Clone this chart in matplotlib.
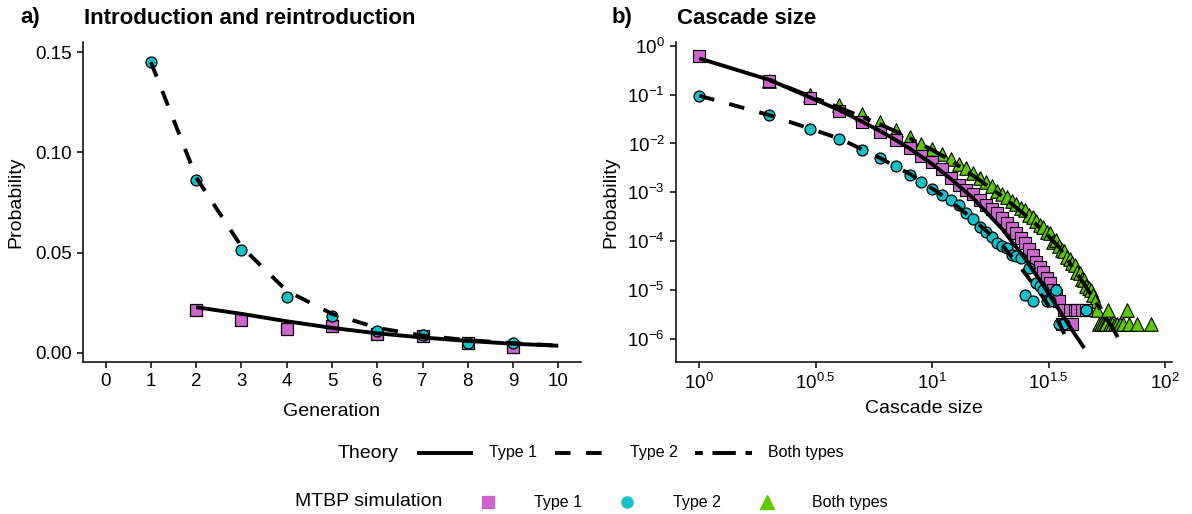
import matplotlib.pyplot as plt
from matplotlib.lines import Line2D

plt.rcParams['font.family'] = ['Liberation Sans', 'DejaVu Sans']
plt.rcParams['mathtext.default'] = 'regular'

# ---- panel a: introduction and reintroduction ----
gen_theory1 = [2, 3, 4, 5, 6, 7, 8, 9, 10]
theory1_a = [0.0228, 0.0195, 0.0158, 0.0125, 0.0098, 0.0077, 0.0060, 0.0046, 0.0036]
gen_theory2 = [1, 2, 3, 4, 5, 6, 7, 8, 9, 10]
theory2_a = [0.145, 0.0875, 0.053, 0.031, 0.0195, 0.0125, 0.0087, 0.0064, 0.0049, 0.0037]
gen_sim1 = [2, 3, 4, 5, 6, 7, 8, 9]
sim1_a = [0.0213, 0.0163, 0.0118, 0.0132, 0.0097, 0.0085, 0.0048, 0.0030]
gen_sim2 = [1, 2, 3, 4, 5, 6, 7, 8, 9]
sim2_a = [0.1452, 0.0863, 0.0513, 0.0280, 0.0182, 0.0110, 0.0088, 0.0052, 0.0048]

# ---- panel b: cascade size ----
size_th1 = [1, 2, 3, 4, 5, 6, 7, 8, 10, 12, 15, 20, 25, 30, 35, 40, 45]
theory1_b = [0.55, 0.20, 0.087, 0.048, 0.028, 0.0178, 0.0117, 0.0079, 0.0038, 0.0019,
             0.00076, 0.000178, 4.47e-5, 1.26e-5, 4.0e-6, 1.5e-6, 6.5e-7]
size_th2 = [1, 2, 3, 4, 5, 6, 7, 8, 10, 12, 15, 20, 25, 30, 35, 38]
theory2_b = [0.095, 0.038, 0.020, 0.0126, 0.0076, 0.0050, 0.0033, 0.0024, 0.0012, 0.00066,
             0.00028, 8.3e-5, 2.24e-5, 7.1e-6, 2.2e-6, 9.5e-7]
size_thb = [2, 3, 4, 5, 6, 7, 8, 10, 12, 15, 20, 25, 30, 35, 40, 45, 50, 55, 60, 64]
theoryb_b = [0.20, 0.092, 0.054, 0.035, 0.0245, 0.0175, 0.0128, 0.0074, 0.0045, 0.0022,
             0.00083, 0.00035, 0.000166, 7.6e-5, 3.0e-5, 1.32e-5, 6.0e-6, 3.0e-6, 1.6e-6, 8.9e-7]

size_sim1 = list(range(1, 43)) + [44, 46]
sim1_b = [0.62, 0.19, 0.085, 0.047, 0.028, 0.0175, 0.0118, 0.0080, 0.0056, 0.0042,
          0.0030, 0.0020, 0.0014, 0.00112, 0.00093, 0.00070, 0.00055, 0.00046, 0.00038, 0.00030,
          0.00024, 0.00019, 0.000150, 0.000118, 9.4e-5, 7.0e-5, 5.2e-5, 3.8e-5, 3.0e-5, 2.4e-5,
          1.8e-5, 1.4e-5, 1.0e-5, 8e-6, 6e-6, 2e-6, 4e-6, 2e-6, 4e-6, 2e-6,
          4e-6, 4e-6, 4e-6, 4e-6]
size_sim2 = list(range(1, 33)) + [34, 35, 37, 46]
sim2_b = [0.095, 0.038, 0.020, 0.0125, 0.0075, 0.0050, 0.0034, 0.0023, 0.00166, 0.00115,
          0.00089, 0.00069, 0.00055, 0.00037, 0.00029, 0.00020, 0.000158, 0.000123, 9.1e-5, 8.0e-5,
          7.2e-5, 5.2e-5, 4.9e-5, 4.5e-5, 8e-6, 2.8e-5, 6e-6, 1.4e-5, 1.2e-5, 1.0e-5,
          6e-6, 6e-6, 1.0e-5, 2e-6, 2e-6, 4e-6]
size_simb = list(range(2, 60)) + [61, 62, 64, 66, 69, 70, 76, 87]
simb_b = [0.19, 0.10, 0.060, 0.040, 0.028, 0.019, 0.0135, 0.0098, 0.0076, 0.0060,
          0.0048, 0.0038, 0.0032, 0.0025, 0.0020, 0.00166, 0.00132, 0.00107, 0.00091, 0.00079,
          0.00066, 0.00058, 0.00049, 0.00044, 0.00035, 0.00032, 0.00026, 0.00022, 0.00020, 0.000158,
          0.000145, 9.5e-5, 0.000105, 7.9e-5, 6.6e-5, 6.3e-5, 4.8e-5, 4.4e-5, 3.6e-5, 3.2e-5,
          2.4e-5, 2.2e-5, 1.7e-5, 1.6e-5, 1.2e-5, 1.1e-5, 1.0e-5, 8e-6, 6e-6, 4e-6,
          2e-6, 2e-6, 2e-6, 2e-6, 2e-6, 4e-6, 2e-6, 2e-6,
          2e-6, 2e-6, 2e-6, 2e-6, 4e-6, 2e-6, 2e-6, 2e-6]

c1 = '#cc66cc'
c2 = '#10c1cc'
cb = '#5ec800'
lw = 2.8

fig = plt.figure(figsize=(11.92, 5.14), dpi=100)
W, H = 1192, 514
axa = fig.add_axes([83 / W, 1 - 362 / H, 498 / W, 320 / H])
axb = fig.add_axes([676 / W, 1 - 362 / H, 496 / W, 320 / H])

for ax in (axa, axb):
    ax.spines['top'].set_visible(False)
    ax.spines['right'].set_visible(False)
    for sp in ('left', 'bottom'):
        ax.spines[sp].set_linewidth(1.1)
    ax.tick_params(labelsize=13.5, length=4, width=1.1, colors='black', pad=4)
    ax.minorticks_off()

# panel a
axa.scatter(gen_sim1, sim1_a, marker='s', s=70, c=c1, edgecolors='black', linewidths=0.9, zorder=2)
axa.scatter(gen_sim2, sim2_a, marker='o', s=62, c=c2, edgecolors='black', linewidths=0.9, zorder=2)
axa.plot(gen_theory1, theory1_a, color='black', lw=lw, solid_capstyle='butt', zorder=3)
axa.plot(gen_theory2, theory2_a, color='black', lw=lw, ls=(0, (4, 4)), zorder=3)
axa.set_xlim(-0.5, 10.5)
axa.set_ylim(-0.0045, 0.155)
axa.set_xticks(range(0, 11))
axa.set_yticks([0, 0.05, 0.10, 0.15])
axa.set_yticklabels(['0.00', '0.05', '0.10', '0.15'])
axa.set_xlabel('Generation', fontsize=14, labelpad=9)
axa.set_ylabel('Probability', fontsize=14, labelpad=8)

# panel b
axb.set_xscale('log')
axb.set_yscale('log')
axb.scatter(size_simb, simb_b, marker='^', s=95, c=cb, edgecolors='black', linewidths=0.8, zorder=2)
axb.scatter(size_sim1, sim1_b, marker='s', s=70, c=c1, edgecolors='black', linewidths=0.8, zorder=2)
axb.scatter(size_sim2, sim2_b, marker='o', s=62, c=c2, edgecolors='black', linewidths=0.9, zorder=2)
axb.plot(size_th1, theory1_b, color='black', lw=lw, solid_capstyle='butt', zorder=3)
axb.plot(size_th2, theory2_b, color='black', lw=lw, ls=(0, (4, 4)), zorder=3)
axb.plot(size_thb, theoryb_b, color='black', lw=lw, ls=(0, (2, 2.5, 6, 2.5)), zorder=3)
axb.set_xlim(10 ** -0.1, 10 ** 2.03)
axb.set_ylim(10 ** -6.47, 10 ** 0.076)
axb.set_xticks([1, 10 ** 0.5, 10, 10 ** 1.5, 100])
axb.set_xticklabels(['$10^{0}$', '$10^{0.5}$', '$10^{1}$', '$10^{1.5}$', '$10^{2}$'])
axb.set_yticks([1e0, 1e-1, 1e-2, 1e-3, 1e-4, 1e-5, 1e-6])
axb.set_yticklabels(['$10^{0}$', '$10^{-1}$', '$10^{-2}$', '$10^{-3}$', '$10^{-4}$',
                     '$10^{-5}$', '$10^{-6}$'])
axb.minorticks_off()
axb.set_xlabel('Cascade size', fontsize=14, labelpad=5)
axb.set_ylabel('Probability', fontsize=14, labelpad=6)

# titles
fig.text(20 / W, 1 - 18 / H, 'a)', fontsize=16, fontweight='bold', va='center')
fig.text(84 / W, 1 - 18 / H, 'Introduction and reintroduction', fontsize=16, fontweight='bold', va='center')
fig.text(612 / W, 1 - 18 / H, 'b)', fontsize=16, fontweight='bold', va='center')
fig.text(677 / W, 1 - 18 / H, 'Cascade size', fontsize=16, fontweight='bold', va='center')

# legend
def fx(px):
    return px / W

def fy(py):
    return 1 - py / H

y1, y2 = 453, 502
fig.text(fx(338), fy(y1), 'Theory', fontsize=14, va='center')
fig.add_artist(Line2D([fx(417), fx(473)], [fy(y1)] * 2, color='black', lw=lw, solid_capstyle='butt'))
fig.text(fx(489), fy(y1), 'Type 1', fontsize=11.5, va='center')
fig.add_artist(Line2D([fx(555), fx(605)], [fy(y1)] * 2, color='black', lw=lw, ls=(0, (4, 4))))
fig.text(fx(630), fy(y1), 'Type 2', fontsize=11.5, va='center')
fig.add_artist(Line2D([fx(695), fx(752)], [fy(y1)] * 2, color='black', lw=lw, ls=(0, (2, 2.5, 6, 2.5))))
fig.text(fx(768), fy(y1), 'Both types', fontsize=11.5, va='center')

fig.text(fx(295), fy(y2), 'MTBP simulation', fontsize=14, va='center')
fig.add_artist(Line2D([fx(488)], [fy(y2)], marker='s', ms=8, color=c1, lw=0))
fig.text(fx(534), fy(y2), 'Type 1', fontsize=11.5, va='center')
fig.add_artist(Line2D([fx(627)], [fy(y2)], marker='o', ms=8, color=c2, lw=0))
fig.text(fx(673), fy(y2), 'Type 2', fontsize=11.5, va='center')
fig.add_artist(Line2D([fx(767)], [fy(y2)], marker='^', ms=10, color=cb, lw=0))
fig.text(fx(812), fy(y2), 'Both types', fontsize=11.5, va='center')

fig.savefig('out.png', dpi=100)
